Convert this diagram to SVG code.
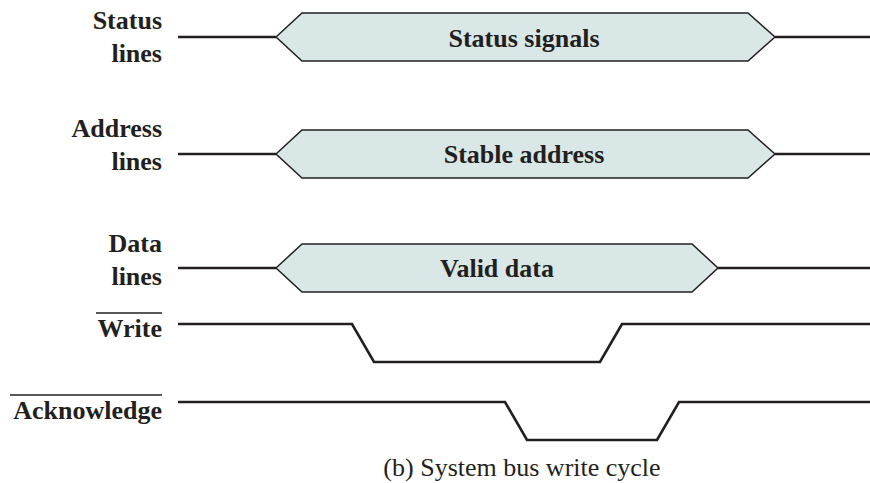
<svg xmlns="http://www.w3.org/2000/svg" width="870" height="483" viewBox="0 0 870 483">
<style>
.lbl{font-family:"Times New Roman","Liberation Serif",serif;font-weight:700;font-size:26px;fill:#231f20;text-anchor:end}
.hx{fill:#d9e7e7;stroke:#231f20;stroke-width:1.5}
.ht{font-family:"Times New Roman","Liberation Serif",serif;font-weight:700;font-size:26px;fill:#231f20;text-anchor:middle}
.sig{fill:none;stroke:#231f20;stroke-width:2.6}
.bar{stroke:#231f20;stroke-width:1.5}
.cap{font-family:"Times New Roman","Liberation Serif",serif;font-size:26px;fill:#231f20;text-anchor:middle}
</style>
<rect width="870" height="483" fill="#fff"/>
<g id="status">
<text class="lbl" x="162" y="29">Status</text>
<text class="lbl" x="162" y="61.5">lines</text>
<polygon class="hx" points="276,37 302,13 748,13 775,37 748,61 302,61"/>
<text class="ht" x="524" y="46.5">Status signals</text>
</g>
<g id="address">
<text class="lbl" x="162" y="137">Address</text>
<text class="lbl" x="162" y="170">lines</text>
<polygon class="hx" points="276,154 302,130 748,130 775,154 748,178 302,178"/>
<text class="ht" x="524" y="163">Stable address</text>
</g>
<g id="data">
<text class="lbl" x="162" y="252">Data</text>
<text class="lbl" x="162" y="285">lines</text>
<polygon class="hx" points="276,268 302,244 692,244 718,268 692,292 302,292"/>
<text class="ht" x="497" y="277">Valid data</text>
</g>
<g id="write">
<line class="bar" x1="96" y1="313" x2="162" y2="313"/>
<text class="lbl" x="162" y="337">Write</text>
</g>
<g id="acknowledge">
<line class="bar" x1="10" y1="395" x2="162" y2="395"/>
<text class="lbl" x="162" y="419">Acknowledge</text>
</g>
<g id="connectors">
<path class="sig" d="M178,37 H276 M775,37 H870"/>
<path class="sig" d="M178,154 H276 M775,154 H870"/>
<path class="sig" d="M178,268 H276 M718,268 H870"/>
<path class="sig" d="M178,324 H352 L374,362 H600 L622,324 H870"/>
<path class="sig" d="M178,402 H505 L527,440 H657 L679,402 H870"/>
</g>
<text class="cap" x="522" y="476">(b) System bus write cycle</text>
</svg>
